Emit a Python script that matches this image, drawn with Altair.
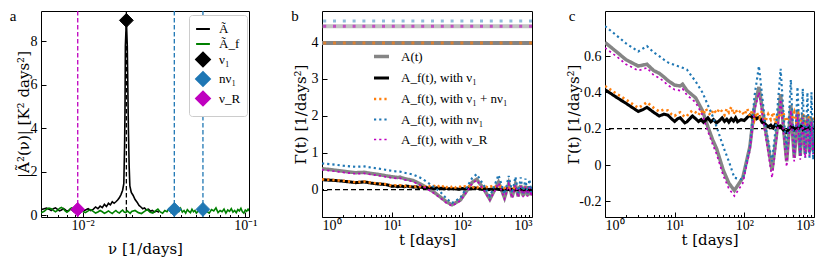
import altair as alt
import pandas as pd

FONT = "Liberation Serif"
TFONT = "DejaVu Serif"

# ---------------- panel a : spectra ----------------
a_black_freq = [0.0055, 0.0058, 0.0060, 0.0062, 0.0064, 0.0066, 0.0068, 0.0070, 0.0072, 0.0074,
                0.0076, 0.0078, 0.0080, 0.0082, 0.0084, 0.0086, 0.0088, 0.0090, 0.0093, 0.0096,
                0.0100, 0.0104, 0.0108, 0.0112, 0.0116, 0.0120, 0.0124, 0.0128, 0.0132, 0.0136,
                0.0140, 0.0144, 0.0148, 0.0152, 0.0156, 0.0160, 0.0164, 0.0168, 0.0172, 0.0176,
                0.0179, 0.0181, 0.0182, 0.0183, 0.01856, 0.0188, 0.0191, 0.0193, 0.0195, 0.0199,
                0.0204, 0.0210, 0.0216, 0.0222, 0.0228, 0.0234, 0.0240, 0.0247, 0.0254, 0.0261,
                0.0268, 0.0276, 0.0285, 0.0295]
a_black_amp = [0.25, 0.30, 0.33, 0.28, 0.22, 0.30, 0.34, 0.27, 0.20, 0.24,
               0.31, 0.26, 0.18, 0.22, 0.28, 0.24, 0.17, 0.20, 0.26, 0.22,
               0.18, 0.24, 0.30, 0.22, 0.27, 0.38, 0.30, 0.42, 0.35, 0.50,
               0.40, 0.55, 0.48, 0.62, 0.55, 0.62, 0.70, 0.80, 0.95, 1.15,
               1.45, 3.2, 4.8, 7.8, 8.95, 7.8, 4.0, 2.3, 1.35, 1.05,
               0.92, 0.72, 0.60, 0.45, 0.38, 0.30, 0.34, 0.24, 0.28, 0.18,
               0.22, 0.15, 0.19, 0.14]
a_green_freq = [0.0055, 0.0058, 0.0060, 0.0062, 0.0064, 0.0066, 0.0068, 0.0070, 0.0072, 0.0074,
                0.0076, 0.0078, 0.0080, 0.0082, 0.0084, 0.0086, 0.0088, 0.0090, 0.0092, 0.0094,
                0.0096, 0.0098, 0.0100,
                0.0104, 0.0108, 0.0112, 0.0116, 0.0120, 0.0124, 0.0128, 0.0132, 0.0136, 0.0140,
                0.0144, 0.0148, 0.0152, 0.0156, 0.0160, 0.0164, 0.0168, 0.0172, 0.0176, 0.0180,
                0.0184, 0.0188, 0.0192, 0.0196, 0.0200,
                0.021, 0.022, 0.023, 0.024, 0.025, 0.026, 0.027, 0.028, 0.029, 0.030,
                0.031, 0.032, 0.033, 0.034, 0.035, 0.036, 0.037, 0.038, 0.039, 0.040,
                0.041, 0.042, 0.043, 0.044, 0.045, 0.046, 0.047, 0.048, 0.049, 0.050,
                0.052, 0.054, 0.056, 0.058, 0.060, 0.062, 0.064, 0.066, 0.068, 0.070,
                0.072, 0.074, 0.076, 0.078, 0.080, 0.082, 0.084, 0.086, 0.088, 0.090,
                0.092, 0.094, 0.096, 0.098, 0.100, 0.102, 0.104, 0.106]
a_green_amp = [0.10, 0.18, 0.28, 0.33, 0.30, 0.22, 0.16, 0.22, 0.32, 0.36,
               0.30, 0.20, 0.14, 0.20, 0.30, 0.34, 0.26, 0.18, 0.15, 0.22,
               0.30, 0.26, 0.18,
               0.12, 0.20, 0.26, 0.18, 0.10, 0.15, 0.22, 0.16, 0.09, 0.14,
               0.20, 0.13, 0.08, 0.16, 0.22, 0.14, 0.10, 0.18, 0.24, 0.15,
               0.12, 0.20, 0.14, 0.09, 0.17,
               0.22, 0.12, 0.08, 0.18, 0.26, 0.14, 0.10, 0.20, 0.28, 0.15,
               0.09, 0.22, 0.16, 0.30, 0.12, 0.20, 0.08, 0.24, 0.17, 0.32,
               0.14, 0.22, 0.10, 0.26, 0.18, 0.12, 0.28, 0.16, 0.22, 0.10,
               0.24, 0.14, 0.30, 0.18, 0.10, 0.26, 0.20, 0.34, 0.12, 0.22,
               0.16, 0.28, 0.10, 0.24, 0.18, 0.30, 0.14, 0.22, 0.12, 0.26,
               0.20, 0.32, 0.16, 0.10, 0.24, 0.18, 0.28, 0.20]
a_marker_freq = [0.00932, 0.01856, 0.0366, 0.0549]
a_marker_amp = [0.27, 8.95, 0.27, 0.27]
a_marker_label = ["ν_R", "ν₁", "nν₁", "nν₁"]
a_legend_labels = ["Ã", "Ã_f", "ν₁", "nν₁", "ν_R"]
a_x_ticks = [0.01, 0.1]
a_x_tick_labels = ["10⁻²", "10⁻¹"]
a_x_minor = [0.006, 0.007, 0.008, 0.009, 0.01, 0.02, 0.03, 0.04, 0.05, 0.06, 0.07, 0.08, 0.09, 0.1]
a_y_ticks = [0, 2, 4, 6, 8]

# ---------------- panels b, c : Gamma(t) ----------------
t_grid = [1, 1.5, 2, 3, 4, 5, 6, 7, 8, 10, 12, 13, 15, 20, 25, 30, 35, 40, 50, 60,
          72, 95, 120, 140, 162, 200, 250, 290, 332, 370, 405, 435, 465, 495, 520, 550,
          580, 610, 635, 660, 690, 720, 748, 775, 805, 835, 862, 890, 920, 950, 975, 1000]
t_dense = [1, 1.5, 2, 2.5, 3, 3.5, 4, 5, 6, 7, 8, 9, 10, 11, 12, 13, 14, 15, 16, 18,
           20, 22, 24, 26, 28, 30, 33, 36, 40, 44, 48, 52, 56, 60, 65, 70, 75, 80, 90, 100,
           110, 120, 130, 140, 150, 165, 180, 200, 220, 240, 260, 280, 300, 330, 360, 400,
           440, 480, 520, 560, 600, 650, 700, 750, 800, 850, 900, 950, 1000]

b_gray = [0.57, 0.53, 0.50, 0.46, 0.47, 0.44, 0.42, 0.40, 0.38, 0.35, 0.33, 0.34, 0.30, 0.25, 0.16,
          0.08, 0.0, -0.07, -0.21, -0.33,
          -0.41, -0.28, 0.0, 0.20, 0.28, 0.05, -0.26, -0.02, 0.20, -0.02, -0.22, -0.02, 0.17, -0.02,
          -0.20, -0.02, 0.14, -0.03, -0.18, -0.02, 0.12, -0.03, -0.17, -0.03, 0.10, -0.04, -0.16,
          -0.03, 0.08, -0.04, -0.15, -0.05]
b_blue = [0.71, 0.68, 0.65, 0.62, 0.63, 0.60, 0.58, 0.56, 0.54, 0.51, 0.49, 0.49, 0.46, 0.41, 0.33,
          0.24, 0.15, 0.07, -0.08, -0.24,
          -0.36, -0.22, 0.10, 0.32, 0.42, 0.15, -0.17, 0.10, 0.40, 0.12, -0.12, 0.12, 0.37, 0.12,
          -0.10, 0.12, 0.35, 0.12, -0.10, 0.10, 0.33, 0.10, -0.10, 0.10, 0.30, 0.08, -0.10, 0.08,
          0.28, 0.08, -0.08, 0.10]
b_magenta = [0.54, 0.50, 0.47, 0.43, 0.44, 0.41, 0.39, 0.37, 0.35, 0.32, 0.30, 0.31, 0.27, 0.22, 0.13,
             0.05, -0.03, -0.10, -0.24, -0.36,
             -0.44, -0.30, -0.03, 0.18, 0.26, 0.02, -0.28, -0.05, 0.18, -0.05, -0.25, -0.05, 0.15,
             -0.05, -0.23, -0.05, 0.12, -0.06, -0.21, -0.05, 0.10, -0.06, -0.20, -0.06, 0.08, -0.06,
             -0.19, -0.05, 0.06, -0.06, -0.18, -0.08]
b_black = [0.27, 0.25, 0.23, 0.21, 0.19, 0.20, 0.21, 0.18, 0.16, 0.15, 0.14, 0.12, 0.09, 0.10, 0.08,
           0.10, 0.09, 0.08, 0.10, 0.08, 0.07, 0.08, 0.06, 0.07, 0.05, 0.06, 0.04, 0.05, 0.03, 0.05,
           0.03, 0.04, 0.02, 0.04, 0.02, 0.04, 0.02, 0.03, 0.01, 0.03, 0.02, 0.04, 0.02, 0.03, 0.05,
           0.04, 0.02, 0.01, 0.03, 0.0, 0.02, 0.01, 0.03, 0.01, 0.0, -0.01, 0.02, 0.0, 0.01, -0.01,
           0.01, 0.0, 0.01, -0.01, 0.0, 0.01, -0.01, 0.0, 0.0]
b_orange = [0.28, 0.26, 0.24, 0.22, 0.20, 0.21, 0.22, 0.19, 0.17, 0.16, 0.15, 0.13, 0.11, 0.12, 0.10,
            0.12, 0.10, 0.09, 0.12, 0.09, 0.10, 0.08, 0.11, 0.07, 0.10, 0.08, 0.11, 0.07, 0.10, 0.06,
            0.11, 0.07, 0.12, 0.06, 0.10, 0.07, 0.11, 0.06, 0.10, 0.05, 0.09, 0.06, 0.10, 0.04, 0.09,
            0.06, 0.10, 0.04, 0.08, 0.05, 0.09, 0.04, 0.08, 0.05, 0.09, 0.04, 0.08, 0.05, 0.08, 0.04,
            0.07, 0.05, 0.08, 0.04, 0.07, 0.05, 0.08, 0.04, 0.06]
# long-time levels drawn as horizontal lines at the top of panel b
b_level_gray_dark = 3.97
b_level_gray_light = 4.43
b_level_orange = 3.97
b_level_blue = 4.57
b_level_magenta = 4.43
b_zero = 0.0

c_gray = [0.675, 0.62, 0.58, 0.545, 0.555, 0.52, 0.505, 0.485, 0.465, 0.44, 0.435, 0.445, 0.41, 0.37,
          0.30, 0.21, 0.14, 0.09, -0.03, -0.10,
          -0.14, -0.07, 0.10, 0.32, 0.43, 0.20, -0.03, 0.17, 0.39, 0.18, 0.02, 0.17, 0.33, 0.16,
          0.04, 0.15, 0.30, 0.15, 0.05, 0.15, 0.28, 0.15, 0.06, 0.15, 0.27, 0.15, 0.07, 0.15, 0.26,
          0.15, 0.08, 0.14]
c_magenta = [0.645, 0.595, 0.555, 0.52, 0.535, 0.495, 0.48, 0.46, 0.44, 0.415, 0.41, 0.42, 0.385,
             0.345, 0.275, 0.185, 0.115, 0.06, -0.06, -0.13,
             -0.17, -0.10, 0.08, 0.30, 0.40, 0.17, -0.07, 0.14, 0.36, 0.15, -0.01, 0.14, 0.30, 0.13,
             0.02, 0.13, 0.28, 0.13, 0.03, 0.13, 0.26, 0.13, 0.04, 0.13, 0.25, 0.13, 0.05, 0.13,
             0.24, 0.13, 0.06, 0.12]
c_blue = [0.765, 0.71, 0.67, 0.625, 0.655, 0.62, 0.60, 0.58, 0.565, 0.55, 0.54, 0.535, 0.525, 0.46,
          0.40, 0.33, 0.27, 0.21, 0.10, 0.02,
          -0.07, -0.08, 0.10, 0.38, 0.545, 0.22, 0.02, 0.25, 0.53, 0.25, 0.08, 0.25, 0.47, 0.22,
          0.06, 0.22, 0.43, 0.22, 0.05, 0.22, 0.42, 0.20, 0.04, 0.20, 0.40, 0.20, 0.04, 0.20, 0.40,
          0.20, 0.03, 0.25]
c_black = [0.415, 0.37, 0.34, 0.315, 0.295, 0.305, 0.318, 0.29, 0.27, 0.28, 0.275, 0.255, 0.24, 0.255,
           0.26, 0.245, 0.232, 0.238, 0.25, 0.27, 0.255, 0.24, 0.25, 0.235, 0.248, 0.26, 0.238, 0.25,
           0.232, 0.245, 0.26, 0.24, 0.252, 0.236, 0.255, 0.242, 0.26, 0.238, 0.25, 0.245, 0.262,
           0.275, 0.262, 0.27, 0.255, 0.265, 0.235, 0.225, 0.21, 0.22, 0.205, 0.225, 0.21, 0.215,
           0.195, 0.18, 0.2, 0.215, 0.195, 0.21, 0.2, 0.215, 0.195, 0.205, 0.2, 0.21, 0.195, 0.2, 0.205]
c_orange = [0.435, 0.39, 0.36, 0.335, 0.315, 0.33, 0.345, 0.315, 0.295, 0.305, 0.30, 0.28, 0.27,
            0.285, 0.29, 0.275, 0.265, 0.27, 0.285, 0.30, 0.29, 0.275, 0.3, 0.28, 0.31, 0.29, 0.275,
            0.305, 0.285, 0.31, 0.295, 0.275, 0.31, 0.29, 0.32, 0.28, 0.305, 0.285, 0.3, 0.275, 0.31,
            0.27, 0.3, 0.25, 0.29, 0.26, 0.3, 0.24, 0.28, 0.25, 0.29, 0.23, 0.28, 0.26, 0.29, 0.24,
            0.27, 0.25, 0.29, 0.23, 0.28, 0.25, 0.27, 0.24, 0.28, 0.25, 0.27, 0.24, 0.26]
c_ref = 0.2

series_labels = ["A(t)", "A_f(t), with ν₁", "A_f(t), with ν₁ + nν₁", "A_f(t), with nν₁",
                 "A_f(t), with ν_R"]
bc_x_ticks = [1, 10, 100, 1000]
bc_x_tick_labels = ["10⁰", "10¹", "10²", "10³"]
bc_x_minor = [1, 2, 3, 4, 5, 6, 7, 8, 9, 10, 20, 30, 40, 50, 60, 70, 80, 90,
              100, 200, 300, 400, 500, 600, 700, 800, 900, 1000]
b_y_ticks = [0, 1, 2, 3, 4]
c_y_ticks = [-0.2, 0, 0.2, 0.4, 0.6]
c_y_tick_labels = ["-0.2", "0", "0.2", "0.4", "0.6"]
panel_letters = ["a", "b", "c"]

# ---------------- styles ----------------
GRAY = "#858585"
BLUE = "#1f77b4"
ORANGE = "#ff7f0e"
MAGENTA = "#bf00bf"
GREEN = "#008000"
series_colors = [GRAY, "black", ORANGE, BLUE, MAGENTA]
series_dash = [[1, 0], [1, 0], [2.2, 3], [2.2, 3], [2.2, 3]]
series_width = [3.5, 1.7, 2.2, 2.2, 2.2]

WA, WB, WC, H = 208, 210, 209, 206

INDEP = dict(fill="independent", stroke="independent", shape="independent", size="independent",
             strokeDash="independent", strokeWidth="independent")


def label_expr(values, labels):
    expr = "''"
    for v, l in reversed(list(zip(values, labels))):
        expr = f"abs(datum.value - ({v})) < 1e-9 ? '{l}' : {expr}"
    return expr


def x_main(values, labels, title, tpad):
    return alt.Axis(orient="bottom", values=values, labelExpr=label_expr(values, labels),
                    title=title, ticks=False, tickSize=0, domain=False, grid=False,
                    labelPadding=1, titlePadding=tpad)


def y_main(values, title, tpad, labels=None):
    kw = {}
    if labels is not None:
        kw["labelExpr"] = label_expr(values, labels)
    return alt.Axis(orient="left", values=values, title=title, ticks=False, tickSize=0, domain=False,
                    grid=False, labelPadding=4, titlePadding=tpad, **kw)


def x_inner(values, majors):
    return alt.Axis(orient="top", offset=-H, values=values, labels=False, domain=False,
                    grid=False, title=None, tickColor="black", tickWidth=1,
                    tickSize={"condition": {"test": f"indexof({majors}, datum.value) >= 0",
                                            "value": 5}, "value": 2.5})


def y_inner(values, w):
    return alt.Axis(orient="right", offset=-w, values=values, labels=False, domain=False,
                    grid=False, title=None, tickColor="black", tickWidth=1, tickSize=5)


def letter_layer(letter, dx):
    return alt.Chart(pd.DataFrame({"letter": [letter]})).mark_text(
        font=FONT, fontSize=15, align="center", baseline="alphabetic", color="black"
    ).encode(text="letter:N", x=alt.value(dx), y=alt.value(10))


# ---------------- panel a ----------------
xa = alt.Scale(type="log", domain=[0.00554, 0.1054], nice=False)
ya = alt.Scale(domain=[-0.08, 9.38], nice=False, zero=False)

df_ab = pd.DataFrame({"f": a_black_freq, "v": a_black_amp})
df_ag = pd.DataFrame({"f": a_green_freq, "v": a_green_amp})
df_am = pd.DataFrame({"f": a_marker_freq, "v": a_marker_amp, "label": a_marker_label})

vline_layers = []
for lab, col in [("ν_R", MAGENTA), ("ν₁", "black"), ("nν₁", BLUE)]:
    vline_layers.append(
        alt.Chart(df_am[df_am["label"] == lab]).mark_rule(
            color=col, strokeDash=[4.5, 2.5], strokeWidth=1.3
        ).encode(x=alt.X("f:Q", scale=xa, axis=None))
    )

a_black = alt.Chart(df_ab).mark_line(color="black", strokeWidth=1.6, clip=True).encode(
    x=alt.X("f:Q", scale=xa, axis=x_main(a_x_ticks, a_x_tick_labels, "ν [1/days]", 9)),
    y=alt.Y("v:Q", scale=ya, axis=y_main(a_y_ticks, "|Ã²(ν)| [K² days²]", -1)),
)
a_green = alt.Chart(df_ag).mark_line(color=GREEN, strokeWidth=1.6, clip=True).encode(
    x=alt.X("f:Q", scale=xa, axis=x_inner(a_x_minor, a_x_ticks)),
    y=alt.Y("v:Q", scale=ya, axis=y_inner(a_y_ticks, WA)),
)
leg_a = alt.Legend(orient="none", legendX=148, legendY=4, title=None, padding=6,
                   strokeColor="#cccccc", fillColor="white", cornerRadius=3,
                   rowPadding=-2.5, labelOffset=8, symbolStrokeWidth=2)
a_colors = ["black", GREEN, "black", BLUE, MAGENTA]
a_points = alt.Chart(df_am).mark_point(filled=True, strokeWidth=1, opacity=1).encode(
    x=alt.X("f:Q", scale=xa, axis=None),
    y=alt.Y("v:Q", scale=ya, axis=None),
    fill=alt.Fill("label:N", scale=alt.Scale(domain=a_legend_labels, range=a_colors), legend=leg_a),
    stroke=alt.Stroke("label:N", scale=alt.Scale(domain=a_legend_labels, range=a_colors), legend=leg_a),
    shape=alt.Shape("label:N", scale=alt.Scale(domain=a_legend_labels,
                                               range=["stroke", "stroke", "diamond", "diamond", "diamond"]),
                    legend=leg_a),
    size=alt.Size("label:O", scale=alt.Scale(domain=a_legend_labels, range=[190, 190, 130, 130, 130]),
                  legend=leg_a),
)
panel_a = alt.layer(*vline_layers, a_black, a_green, a_points, letter_layer(panel_letters[0], -28)
                    ).resolve_axis(x="independent", y="independent").properties(width=WA, height=H)


# ---------------- panels b and c ----------------
def long_df(gray, black, orange, blue, magenta):
    rows = []
    for lab, ts, vs in [(series_labels[0], t_grid, gray), (series_labels[1], t_dense, black),
                        (series_labels[2], t_dense, orange), (series_labels[3], t_grid, blue),
                        (series_labels[4], t_grid, magenta)]:
        for t, v in zip(ts, vs):
            rows.append({"t": t, "v": v, "series": lab})
    return pd.DataFrame(rows)


xt = alt.Scale(type="log", domain=[1, 1000], nice=False)


def gamma_panel(df, yscale, ylabels_vals, ylabels_txt, w, legend, tpad_y, letter, dx, extra):
    lines = alt.Chart(df).mark_line(clip=True).encode(
        x=alt.X("t:Q", scale=xt, axis=x_main(bc_x_ticks, bc_x_tick_labels, "t [days]", 0)),
        y=alt.Y("v:Q", scale=yscale, axis=y_main(ylabels_vals, "Γ(t) [1/days²]", tpad_y, ylabels_txt)),
        stroke=alt.Stroke("series:N", scale=alt.Scale(domain=series_labels, range=series_colors),
                          legend=legend),
        strokeDash=alt.StrokeDash("series:N", scale=alt.Scale(domain=series_labels, range=series_dash),
                                  legend=legend),
        strokeWidth=alt.StrokeWidth("series:O", scale=alt.Scale(domain=series_labels, range=series_width),
                                    legend=legend),
    )
    ticks = alt.Chart(df).mark_line(opacity=0).encode(
        x=alt.X("t:Q", scale=xt, axis=x_inner(bc_x_minor, bc_x_ticks)),
        y=alt.Y("v:Q", scale=yscale, axis=y_inner(ylabels_vals, w)),
        detail="series:N",
    )
    return alt.layer(*extra, lines, ticks, letter_layer(letter, dx)).resolve_axis(
        x="independent", y="independent").properties(width=w, height=H)


def hline(level, yscale, **style):
    return alt.Chart(pd.DataFrame({"y": [level]})).mark_rule(**style).encode(
        y=alt.Y("y:Q", scale=yscale, axis=None))


yb = alt.Scale(domain=[-0.74, 4.84], nice=False, zero=False)
leg_b = alt.Legend(orient="none", legendX=50, legendY=36, title=None, padding=0,
                   rowPadding=4.5, labelOffset=10, symbolSize=225)
extra_b = [
    hline(b_zero, yb, color="black", strokeDash=[5, 3], strokeWidth=1.3),
    hline(b_level_gray_light, yb, color=GRAY, strokeWidth=4, opacity=0.5),
    hline(b_level_gray_dark, yb, color=GRAY, strokeWidth=4),
    hline(b_level_blue, yb, color=BLUE, strokeWidth=3, strokeDash=[3, 6.8], opacity=0.5),
    hline(b_level_magenta, yb, color=MAGENTA, strokeWidth=3, strokeDash=[3, 6.8], opacity=0.6),
    hline(b_level_orange, yb, color=ORANGE, strokeWidth=3, strokeDash=[3, 6.8], opacity=0.7),
]
panel_b = gamma_panel(long_df(b_gray, b_black, b_orange, b_blue, b_magenta), yb, b_y_ticks, None,
                      WB, leg_b, 3, panel_letters[1], -27, extra_b)

yc = alt.Scale(domain=[-0.286, 0.848], nice=False, zero=False)
extra_c = [hline(c_ref, yc, color="black", strokeDash=[5, 3], strokeWidth=1.3)]
panel_c = gamma_panel(long_df(c_gray, c_black, c_orange, c_blue, c_magenta), yc, c_y_ticks,
                      c_y_tick_labels, WC, None, -3, panel_letters[2], -33, extra_c)

chart = alt.HConcatChart(hconcat=[panel_a, panel_b, panel_c], spacing=73, bounds="flush").resolve_scale(
    **INDEP).resolve_legend(**INDEP).properties(
    padding={"left": 1, "right": 2, "top": 0, "bottom": 0}
).configure_view(stroke="black", strokeWidth=1).configure_axis(
    labelFont=FONT, titleFont=TFONT, labelFontSize=14, titleFontSize=15, titleFontWeight="normal",
    labelColor="black", titleColor="black", grid=False
).configure_legend(labelFont=FONT, labelFontSize=13, labelColor="black", labelLimit=0)

chart.save("out.html", embed_options={"renderer": "svg", "actions": False})
